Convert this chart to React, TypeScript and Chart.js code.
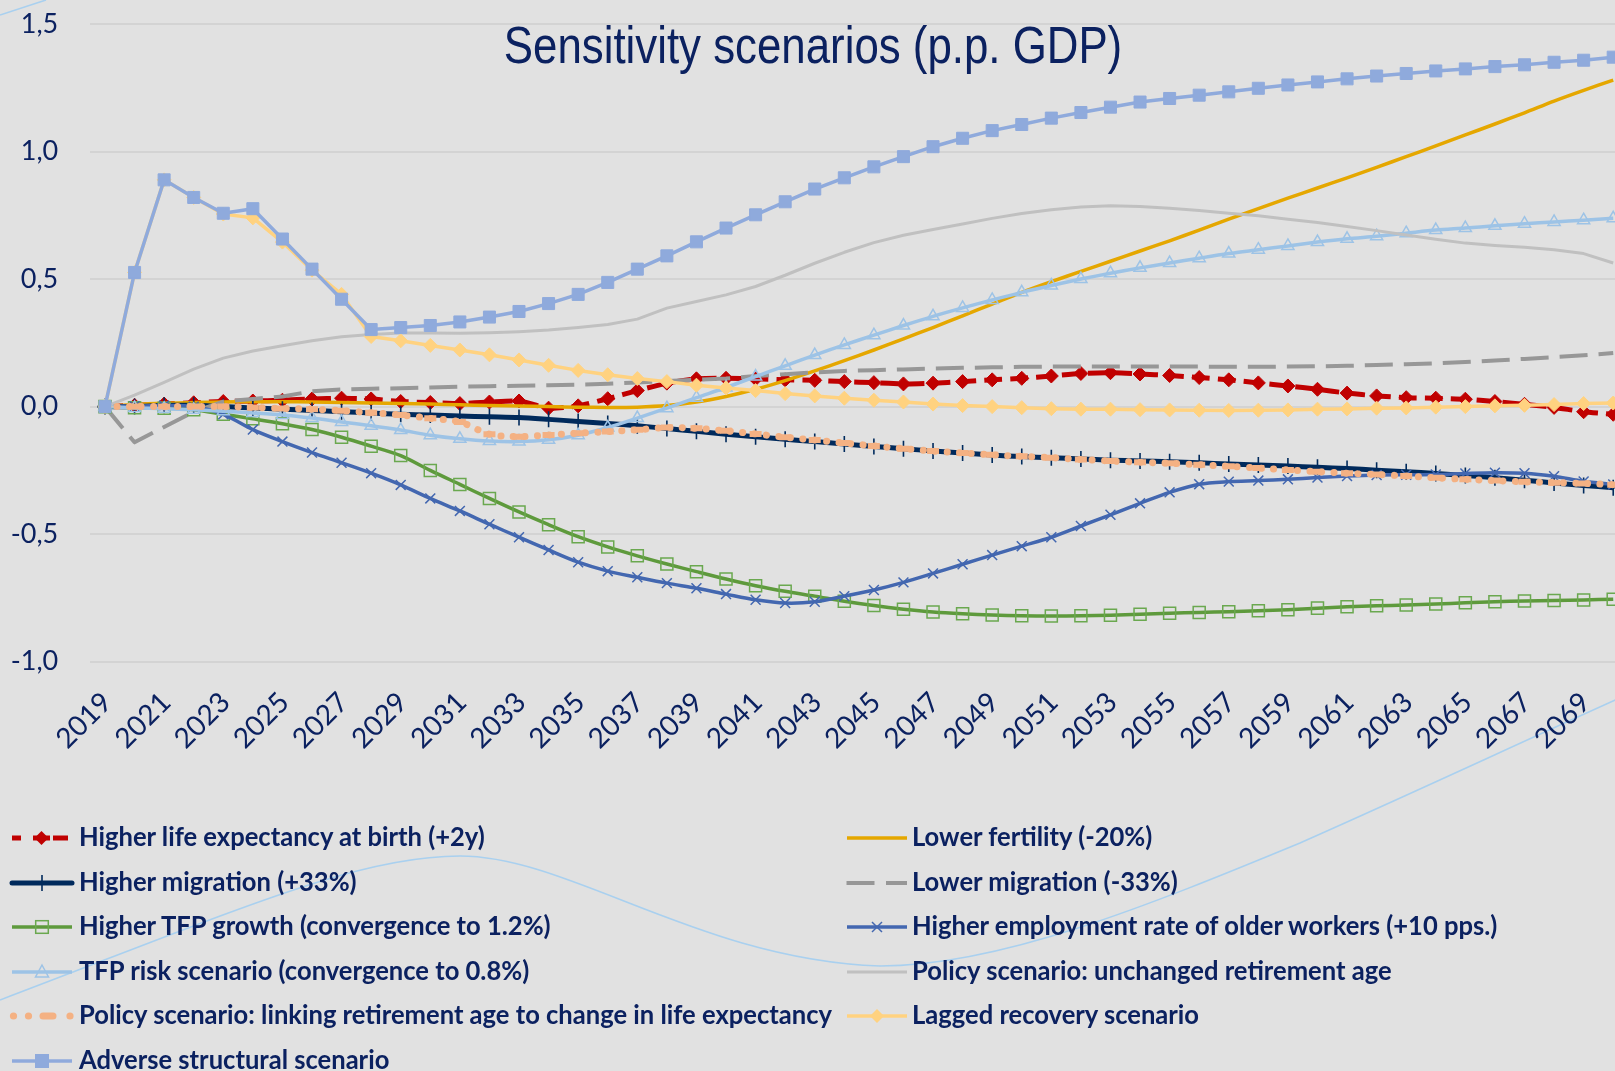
import React, { useEffect, useRef } from 'react';
import { Chart, registerables } from 'chart.js';

Chart.register(...registerables);

// ---------- DATA ----------
const years = [
  '2019', '2020', '2021', '2022', '2023', '2024', '2025', '2026', '2027', '2028',
  '2029', '2030', '2031', '2032', '2033', '2034', '2035', '2036', '2037', '2038',
  '2039', '2040', '2041', '2042', '2043', '2044', '2045', '2046', '2047', '2048',
  '2049', '2050', '2051', '2052', '2053', '2054', '2055', '2056', '2057', '2058',
  '2059', '2060', '2061', '2062', '2063', '2064', '2065', '2066', '2067', '2068',
  '2069', '2070',
];

const lifeExpectancy = [
  0, 0.005, 0.01, 0.015, 0.02, 0.022, 0.025, 0.03, 0.033, 0.03,
  0.02, 0.016, 0.012, 0.018, 0.022, -0.006, 0.003, 0.031, 0.063, 0.092,
  0.109, 0.111, 0.109, 0.105, 0.103, 0.098, 0.094, 0.089, 0.092, 0.098,
  0.105, 0.111, 0.12, 0.13, 0.133, 0.128, 0.122, 0.114, 0.105, 0.093,
  0.081, 0.068, 0.053, 0.042, 0.035, 0.033, 0.029, 0.02, 0.009, -0.003,
  -0.02, -0.03,
];

const lowerFertility = [
  0, 0.008, 0.013, 0.016, 0.018, 0.019, 0.019, 0.018, 0.016, 0.014,
  0.012, 0.01, 0.007, 0.004, 0.002, 0.0, -0.002, -0.003, -0.002, 0.004,
  0.018, 0.04, 0.068, 0.102, 0.14, 0.18, 0.222, 0.266, 0.31, 0.356,
  0.402, 0.448, 0.49, 0.53, 0.57, 0.61, 0.65, 0.692, 0.735, 0.776,
  0.817, 0.857, 0.897, 0.938, 0.98, 1.022, 1.065, 1.108, 1.152, 1.198,
  1.24, 1.28,
];

const higherMigration = [
  0, 0, 0.005, 0.005, 0.0, -0.005, -0.01, -0.015, -0.02, -0.025,
  -0.03, -0.033, -0.037, -0.04, -0.043, -0.05, -0.058, -0.066, -0.075, -0.086,
  -0.097, -0.108, -0.118, -0.128, -0.137, -0.147, -0.156, -0.165, -0.174, -0.182,
  -0.19, -0.196, -0.2, -0.205, -0.21, -0.213, -0.216, -0.22, -0.225, -0.229,
  -0.233, -0.238, -0.243, -0.249, -0.255, -0.262, -0.27, -0.279, -0.289, -0.299,
  -0.309, -0.318,
];

const lowerMigration = [
  0, -0.14, -0.08, -0.02, 0.02, 0.03, 0.04, 0.06, 0.067, 0.07,
  0.072, 0.075, 0.078, 0.08, 0.082, 0.084, 0.086, 0.09, 0.095, 0.1,
  0.105, 0.11, 0.12, 0.127, 0.134, 0.14, 0.143, 0.146, 0.149, 0.152,
  0.154, 0.156, 0.157, 0.157, 0.157, 0.157, 0.157, 0.157, 0.156, 0.156,
  0.157, 0.158, 0.16, 0.163, 0.166, 0.17, 0.175, 0.181, 0.187, 0.194,
  0.201, 0.21,
];

const higherTfp = [
  0, -0.004, -0.006, -0.012, -0.03, -0.048, -0.067, -0.09, -0.12, -0.155,
  -0.192, -0.25, -0.305, -0.36, -0.413, -0.463, -0.51, -0.55, -0.585, -0.617,
  -0.647, -0.676, -0.702, -0.724, -0.743, -0.763, -0.78, -0.794, -0.805, -0.812,
  -0.817, -0.82, -0.821, -0.82, -0.818, -0.814, -0.81, -0.807, -0.804, -0.8,
  -0.796, -0.79, -0.785, -0.781, -0.778, -0.774, -0.769, -0.765, -0.762, -0.76,
  -0.758, -0.755,
];

const higherEmployment = [
  0, 0.002, 0.004, 0.0, -0.03, -0.09, -0.137, -0.18, -0.22, -0.261,
  -0.307, -0.36, -0.409, -0.461, -0.512, -0.562, -0.61, -0.645, -0.669, -0.692,
  -0.712, -0.735, -0.757, -0.77, -0.765, -0.743, -0.719, -0.689, -0.654, -0.618,
  -0.582, -0.547, -0.512, -0.468, -0.424, -0.379, -0.336, -0.304, -0.294, -0.29,
  -0.285, -0.278, -0.272, -0.268, -0.267, -0.266, -0.262, -0.259, -0.261, -0.273,
  -0.293, -0.305,
];

const tfpRisk = [
  0, -0.005, -0.008, -0.012, -0.018, -0.025, -0.033, -0.045, -0.06, -0.075,
  -0.092, -0.112, -0.126, -0.135, -0.137, -0.13, -0.112, -0.082, -0.045, -0.006,
  0.035, 0.075, 0.118, 0.16, 0.202, 0.242, 0.28, 0.318, 0.354, 0.387,
  0.418, 0.448, 0.475, 0.5, 0.523, 0.544, 0.563, 0.582, 0.6, 0.615,
  0.63, 0.645, 0.658, 0.668, 0.68, 0.692, 0.7, 0.709, 0.717, 0.724,
  0.731, 0.738,
];

const unchangedRetirement = [
  0, 0.045, 0.095, 0.147, 0.19, 0.218, 0.239, 0.258, 0.274, 0.283,
  0.289, 0.289, 0.288, 0.29, 0.294, 0.3, 0.31, 0.322, 0.343, 0.386,
  0.412, 0.438, 0.471, 0.515, 0.562, 0.605, 0.643, 0.672, 0.694, 0.716,
  0.738, 0.757, 0.772, 0.783, 0.787, 0.785, 0.778, 0.769, 0.758, 0.748,
  0.735, 0.722, 0.706, 0.69, 0.673, 0.656, 0.641, 0.632, 0.625, 0.615,
  0.6, 0.563,
];

const linkingRetirement = [
  0, 0.0, 0.0, 0.0, 0.0, -0.003, -0.007, -0.01, -0.016, -0.024,
  -0.033, -0.046, -0.06, -0.108, -0.118, -0.111, -0.104, -0.098, -0.091, -0.082,
  -0.085, -0.095, -0.107, -0.12, -0.131, -0.143, -0.154, -0.165, -0.174, -0.182,
  -0.189, -0.195, -0.2, -0.207, -0.213, -0.218, -0.222, -0.228, -0.234, -0.241,
  -0.248, -0.255, -0.261, -0.266, -0.272, -0.279, -0.285, -0.29, -0.295, -0.298,
  -0.301, -0.306,
];

const laggedRecovery = [
  0, 0.526, 0.889, 0.82, 0.755, 0.74, 0.645, 0.535, 0.44, 0.275,
  0.258, 0.24, 0.222, 0.203, 0.183, 0.162, 0.142, 0.125, 0.11, 0.098,
  0.084, 0.073, 0.063, 0.051, 0.042, 0.033, 0.025, 0.018, 0.01, 0.004,
  0.0, -0.004, -0.008, -0.01, -0.01, -0.012, -0.013, -0.014, -0.015, -0.014,
  -0.013, -0.01, -0.009, -0.006, -0.005, -0.002, 0.0, 0.003, 0.005, 0.008,
  0.012, 0.014,
];

const adverseStructural = [
  0, 0.526, 0.889, 0.82, 0.758, 0.776, 0.657, 0.539, 0.421, 0.302,
  0.31, 0.318, 0.332, 0.351, 0.373, 0.404, 0.44, 0.487, 0.539, 0.591,
  0.646, 0.7, 0.752, 0.803, 0.853, 0.897, 0.94, 0.98, 1.019, 1.052,
  1.082, 1.106, 1.131, 1.153, 1.174, 1.194, 1.208, 1.221, 1.234, 1.248,
  1.261, 1.273, 1.285, 1.296, 1.306, 1.316, 1.324, 1.333, 1.34, 1.35,
  1.358, 1.37,
];

const seriesLabels = [
  'Higher life expectancy at birth (+2y)',
  'Lower fertility (-20%)',
  'Higher migration (+33%)',
  'Lower migration (-33%)',
  'Higher TFP growth (convergence to 1.2%)',
  'Higher employment rate of older workers (+10 pps.)',
  'TFP risk scenario (convergence to 0.8%)',
  'Policy scenario: unchanged retirement age',
  'Policy scenario: linking retirement age to change in life expectancy',
  'Lagged recovery scenario',
  'Adverse structural scenario',
];

const seriesValues = [
  lifeExpectancy, lowerFertility, higherMigration, lowerMigration, higherTfp,
  higherEmployment, tfpRisk, unchangedRetirement, linkingRetirement,
  laggedRecovery, adverseStructural,
];

const yMin = -1;
const yMax = 1.5;
const yStep = 0.5;
const chartTitle = 'Sensitivity scenarios (p.p. GDP)';

// ---------- STYLES ----------
const NAVY = '#0b2160';
const BG = '#e1e1e1';
const TRANSPARENT = 'rgba(0,0,0,0)';

type Style = {
  color: string;
  width: number;
  dash?: number[];
  cap?: CanvasLineCap;
  point?: string;
  radius?: number;
  pointFill?: string;
  pointBorder?: string;
  pointBorderWidth?: number;
  tension: number;
};

const styles: Style[] = [
  { color: '#c00000', width: 5, dash: [18, 8], point: 'rectRot', radius: 7, pointFill: '#c00000', pointBorder: '#c00000', pointBorderWidth: 1, tension: 0.2 },
  { color: '#e5a700', width: 3.5, tension: 0.3 },
  { color: '#002a5c', width: 5, point: 'cross', radius: 8, pointFill: TRANSPARENT, pointBorder: '#002a5c', pointBorderWidth: 1.6, tension: 0.3 },
  { color: '#979797', width: 4, dash: [28, 11], tension: 0 },
  { color: '#5e9a3c', width: 3.5, point: 'rect', radius: 8.5, pointFill: TRANSPARENT, pointBorder: '#6aa84f', pointBorderWidth: 1.5, tension: 0.3 },
  { color: '#4367b0', width: 3.5, point: 'crossRot', radius: 7, pointFill: TRANSPARENT, pointBorder: '#4367b0', pointBorderWidth: 1.5, tension: 0.3 },
  { color: '#9dc3e6', width: 3.5, point: 'triangle', radius: 7, pointFill: TRANSPARENT, pointBorder: '#9dc3e6', pointBorderWidth: 1.5, tension: 0.3 },
  { color: '#c0c0c0', width: 3, tension: 0 },
  { color: '#f4b183', width: 7, dash: [0.1, 12], cap: 'round', point: 'line', radius: 6, pointFill: '#f4b183', pointBorder: '#f4b183', pointBorderWidth: 6, tension: 0.3 },
  { color: '#ffd280', width: 3.5, point: 'rectRot', radius: 7, pointFill: '#ffd280', pointBorder: '#ffd280', pointBorderWidth: 1, tension: 0 },
  { color: '#8faadc', width: 3.5, point: 'rect', radius: 8.5, pointFill: '#8faadc', pointBorder: '#8faadc', pointBorderWidth: 1, tension: 0 },
];

const CANVAS_W = 1640;
const CANVAS_H = 1071;
const PLOT_LEFT = 90.2;
const PLOT_RIGHT = 1636.2;
const PLOT_TOP = 24;
const PLOT_BOTTOM = 661.7;

// background decorative wave (not data)
const decoPlugin = {
  id: 'deco',
  beforeDraw(chart: Chart) {
    const c = chart.ctx;
    c.save();
    c.strokeStyle = '#a9d0ef';
    c.lineWidth = 1.6;
    c.beginPath();
    c.moveTo(0, 1000);
    c.bezierCurveTo(250, 905, 360, 856, 460, 856);
    c.bezierCurveTo(570, 856, 700, 960, 880, 966);
    c.bezierCurveTo(1000, 966, 1150, 905, 1300, 843);
    c.bezierCurveTo(1420, 790, 1530, 738, 1660, 680);
    c.stroke();
    c.beginPath();
    c.moveTo(0, 15);
    c.lineTo(46, 0);
    c.stroke();
    c.restore();
  },
};

// ---------- LEGEND ----------
const legendRowsY = [838.3, 882.8, 927.3, 971.8, 1016.3, 1060.8];
const legendLayout = [
  { col: 0, row: 0 }, { col: 1, row: 0 },
  { col: 0, row: 1 }, { col: 1, row: 1 },
  { col: 0, row: 2 }, { col: 1, row: 2 },
  { col: 0, row: 3 }, { col: 1, row: 3 },
  { col: 0, row: 4 }, { col: 1, row: 4 },
  { col: 0, row: 5 },
];
const legendCols = [
  { sampleX: 10, textX: 79 },
  { sampleX: 845, textX: 912 },
];

function diamond(cx: number, cy: number, r: number) {
  return `${cx},${cy - r} ${cx + r},${cy} ${cx},${cy + r} ${cx - r},${cy}`;
}

function Sample({ idx }: { idx: number }) {
  const s = styles[idx];
  const cy = 11;
  const parts: React.ReactNode[] = [];
  if (idx === 0) {
    parts.push(<line key="a" x1={2} y1={cy} x2={11} y2={cy} stroke={s.color} strokeWidth={5} />);
    parts.push(<line key="b" x1={23} y1={cy} x2={40} y2={cy} stroke={s.color} strokeWidth={5} />);
    parts.push(<polygon key="c" points={diamond(31.5, cy, 7)} fill={s.color} />);
    parts.push(<line key="d" x1={43} y1={cy} x2={58} y2={cy} stroke={s.color} strokeWidth={5} />);
  } else if (idx === 3) {
    parts.push(<line key="a" x1={1.5} y1={cy} x2={29.5} y2={cy} stroke={s.color} strokeWidth={4} />);
    parts.push(<line key="b" x1={41} y1={cy} x2={62} y2={cy} stroke={s.color} strokeWidth={4} />);
  } else if (idx === 8) {
    [3.5, 18.5, 60].forEach((x, k) => parts.push(<circle key={'c' + k} cx={x} cy={cy} r={3.6} fill={s.color} />));
    parts.push(<line key="bar" x1={33} y1={cy} x2={43} y2={cy} stroke={s.color} strokeWidth={7} strokeLinecap="round" />);
  } else {
    const x1 = 2;
    const x2 = 62;
    const cx = (x1 + x2) / 2;
    parts.push(<line key="l" x1={x1} y1={cy} x2={x2} y2={cy} stroke={s.color} strokeWidth={s.width} strokeLinecap={idx === 2 ? 'round' : 'butt'} />);
    if (s.point === 'cross') {
      parts.push(<line key="p" x1={cx} y1={cy - 8} x2={cx} y2={cy + 8} stroke={s.pointBorder} strokeWidth={1.6} />);
    } else if (s.point === 'rect') {
      const half = idx === 10 ? 7 : 6.3;
      parts.push(
        <rect key="p" x={cx - half} y={cy - half} width={half * 2} height={half * 2}
          fill={idx === 10 ? s.pointFill : 'none'} stroke={s.pointBorder} strokeWidth={idx === 10 ? 0 : 1.5} />,
      );
    } else if (s.point === 'triangle') {
      parts.push(<polygon key="p" points={`${cx},${cy - 7} ${cx + 6.5},${cy + 5} ${cx - 6.5},${cy + 5}`} fill="none" stroke={s.pointBorder} strokeWidth={1.5} />);
    } else if (s.point === 'crossRot') {
      parts.push(<line key="p1" x1={cx - 5} y1={cy - 5} x2={cx + 5} y2={cy + 5} stroke={s.pointBorder} strokeWidth={1.5} />);
      parts.push(<line key="p2" x1={cx - 5} y1={cy + 5} x2={cx + 5} y2={cy - 5} stroke={s.pointBorder} strokeWidth={1.5} />);
    } else if (s.point === 'rectRot') {
      parts.push(<polygon key="p" points={diamond(cx, cy, 7)} fill={s.pointFill} />);
    }
  }
  return (
    <svg width={64} height={22} style={{ position: 'absolute', left: 0, top: 0, overflow: 'visible' }}>
      {parts}
    </svg>
  );
}

export default function App() {
  const canvasRef = useRef<HTMLCanvasElement | null>(null);

  useEffect(() => {
    document.body.style.margin = '0';
    const canvas = canvasRef.current;
    if (!canvas) return;

    const datasets = seriesValues.map((vals, i) => {
      const s = styles[i];
      return {
        label: seriesLabels[i],
        data: vals,
        borderColor: s.color,
        backgroundColor: s.color,
        borderWidth: s.width,
        borderDash: s.dash || [],
        borderCapStyle: s.cap || 'butt',
        borderJoinStyle: 'round' as CanvasLineJoin,
        tension: s.tension,
        fill: false,
        pointStyle: (s.point || 'circle') as any,
        pointRadius: s.point ? s.radius : 0,
        pointHoverRadius: s.point ? s.radius : 0,
        pointBackgroundColor: s.pointFill || s.color,
        pointBorderColor: s.pointBorder || s.color,
        pointBorderWidth: s.pointBorderWidth || 1,
        order: 20 - i,
      };
    });

    const tickFont = { family: 'Lato', size: 27 };

    const chart = new Chart(canvas, {
      type: 'line',
      data: { labels: years, datasets },
      options: {
        responsive: false,
        maintainAspectRatio: false,
        animation: false,
        devicePixelRatio: 1,
        events: [],
        layout: {
          padding: { top: PLOT_TOP, right: CANVAS_W - PLOT_RIGHT, left: 0, bottom: 0 },
        },
        plugins: {
          legend: { display: false },
          tooltip: { enabled: false },
          title: { display: false },
        },
        scales: {
          x: {
            type: 'category',
            offset: true,
            grid: { display: false, drawTicks: false },
            border: { display: false },
            ticks: {
              autoSkip: false,
              minRotation: 45,
              maxRotation: 45,
              padding: 24,
              labelOffset: 2,
              color: NAVY,
              font: { family: 'Lato', size: 28 },
              callback: (_v: any, i: number) => (i % 2 === 0 ? years[i] : ''),
            },
            afterFit: (s: any) => {
              s.height = CANVAS_H - PLOT_BOTTOM;
              s.paddingLeft = 0;
              s.paddingRight = 0;
            },
          },
          y: {
            min: yMin,
            max: yMax,
            grid: { color: '#d3d3d3', lineWidth: 2, drawTicks: false },
            border: { display: false },
            ticks: {
              stepSize: yStep,
              padding: 32,
              color: NAVY,
              font: tickFont,
              callback: (v: any) => Number(v).toFixed(1).replace('.', ','),
            },
            afterFit: (s: any) => {
              s.width = PLOT_LEFT;
              s.paddingTop = 0;
              s.paddingBottom = 0;
            },
          },
        },
      },
      plugins: [decoPlugin],
    });

    return () => chart.destroy();
  }, []);

  return (
    <div
      style={{
        position: 'fixed', left: 0, top: 0, width: 1615, height: 1071,
        overflow: 'hidden', background: BG,
      }}
    >
      <canvas
        ref={canvasRef}
        width={CANVAS_W}
        height={CANVAS_H}
        style={{ position: 'absolute', left: 0, top: 0, width: CANVAS_W, height: CANVAS_H }}
      />
      <div
        style={{
          position: 'absolute', left: 813, top: 19.3, transform: 'translateX(-50%) scaleX(0.8425)',
          fontFamily: '"Liberation Sans", Arial, sans-serif', fontSize: 52, lineHeight: '52px',
          color: NAVY, whiteSpace: 'nowrap',
        }}
      >
        {chartTitle}
      </div>
      {seriesLabels.map((label, i) => {
        const { col, row } = legendLayout[i];
        const cy = legendRowsY[row];
        const c = legendCols[col];
        return (
          <React.Fragment key={label}>
            <div style={{ position: 'absolute', left: c.sampleX, top: cy - 11, width: 64, height: 22 }}>
              <Sample idx={i} />
            </div>
            <div
              style={{
                position: 'absolute', left: c.textX, top: cy + 8 - 24,
                fontFamily: 'Lato, sans-serif', fontWeight: 700, fontSize: 27, lineHeight: '27px',
                color: NAVY, whiteSpace: 'nowrap',
                transform: 'scaleX(0.947)', transformOrigin: 'left center',
              }}
            >
              {label}
            </div>
          </React.Fragment>
        );
      })}
    </div>
  );
}
